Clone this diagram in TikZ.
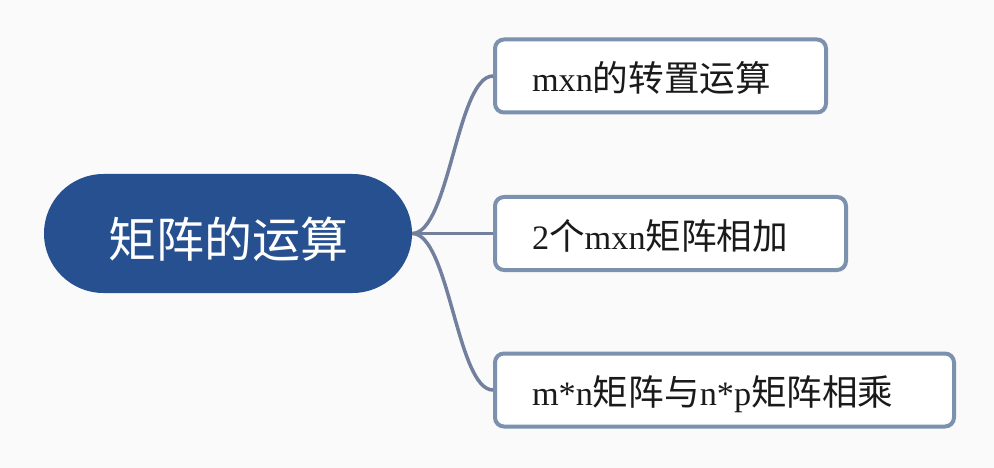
\documentclass[tikz,border=0pt]{standalone}
\usepackage{fontspec}
\setmainfont{Liberation Serif}[Scale=0.963]
\newfontfamily\cjk{Noto Sans CJK SC}
\definecolor{pagebg}{HTML}{FAFAFA}
\definecolor{rootblue}{HTML}{26508F}
\definecolor{boxedge}{HTML}{7C91AE}
\definecolor{linkline}{HTML}{72809D}
\definecolor{inktext}{HTML}{1A1A1A}
\tikzset{
  rootnode/.style={fill=rootblue, text=white, rounded corners=59.5pt,
    minimum width=368pt, minimum height=119pt, inner sep=0pt,
    text height=50pt, text depth=1pt, font=\fontsize{48}{56}\selectfont\cjk},
  leaf/.style={draw=boxedge, line width=4pt, fill=white, rounded corners=9pt,
    anchor=west, minimum height=73pt, inner xsep=37pt, inner ysep=0pt,
    align=left, text=inktext, text height=31.5pt, text depth=0.5pt,
    font=\fontsize{35.6}{42}\selectfont},
  link/.style={draw=linkline, line width=3.5pt}
}
\begin{document}
\begin{tikzpicture}[x=1pt,y=-1pt]
  \useasboundingbox (0,0) rectangle (994,468);
  \fill[pagebg] (0,0) rectangle (994,468);

  % central topic
  \node[rootnode] (root) at (228,233.5) {矩阵的运算};

  % subtopics
  \node[leaf, text width=257pt] (t1) at (493,76) {mxn{\cjk 的转置运算}};
  \node[leaf, text width=277pt] (t2) at (493,233.5) {2{\cjk 个}mxn{\cjk 矩阵相加}};
  \node[leaf, text width=385pt] (t3) at (493,390) {m*n{\cjk 矩阵与}n*p{\cjk 矩阵相乘}};

  % branches
  \draw[link] (root.east) .. controls +(37,0) and +(-36,0) .. (t1.west);
  \draw[link] (root.east) -- (t2.west);
  \draw[link] (root.east) .. controls +(37,0) and +(-36,0) .. (t3.west);
\end{tikzpicture}
\end{document}
